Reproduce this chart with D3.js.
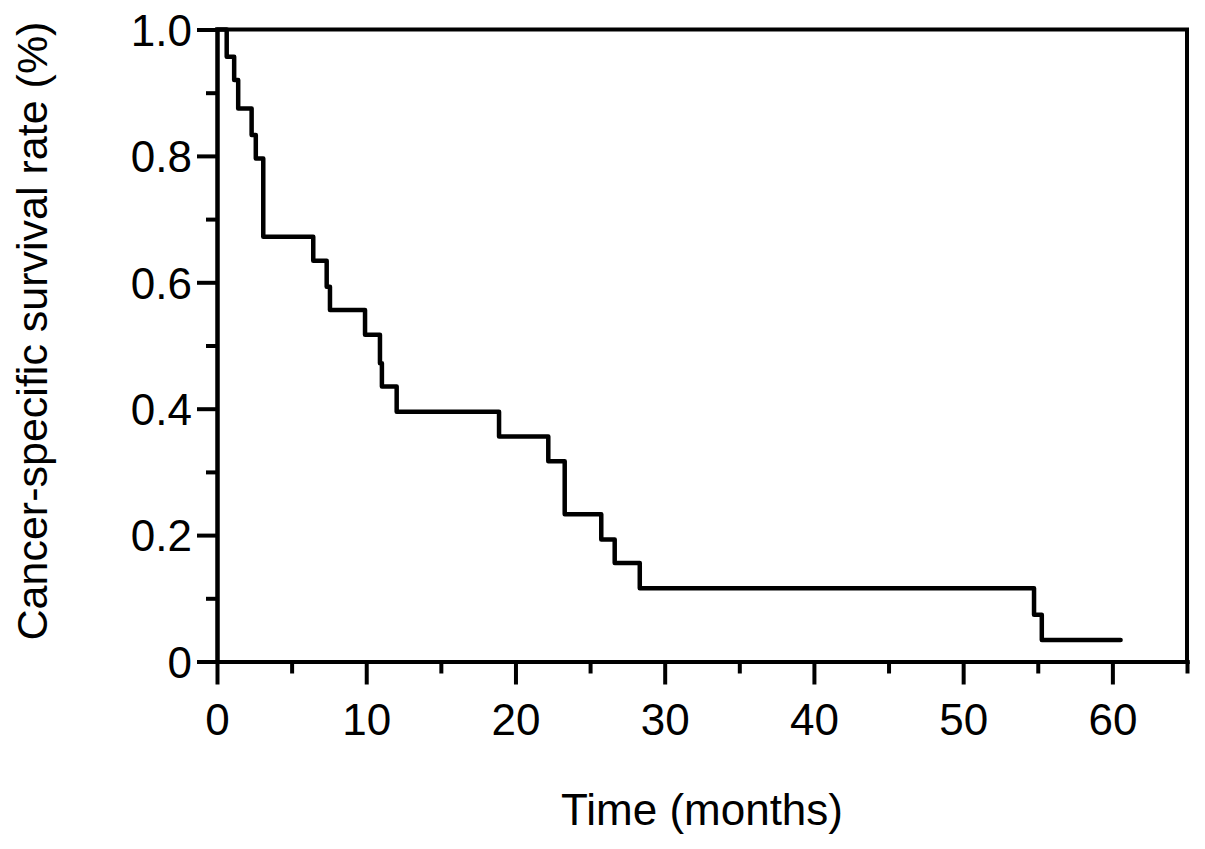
<!DOCTYPE html>
<html>
<head>
<meta charset="utf-8">
<script src="https://cdn.jsdelivr.net/npm/d3@7"></script>
<style>
  html, body { margin: 0; padding: 0; background: #fff; }
  svg { display: block; }
  text { font-family: "Liberation Sans", Arial, sans-serif; fill: #000; }
</style>
</head>
<body>
<svg id="chart" width="1205" height="849"></svg>
<script>
// ---- data ----
const stepTimes  = [0, 0.65, 1.15, 1.42, 2.32, 2.6, 3.1, 6.45, 7.35, 7.57, 9.92, 10.92, 11.05, 12.04, 18.9, 22.2, 23.3, 25.75, 26.65, 28.33, 54.75, 55.27, 60.55];
const survival   = [1.0, 0.957, 0.920, 0.875, 0.833, 0.796, 0.672, 0.634, 0.593, 0.556, 0.517, 0.472, 0.435, 0.395, 0.356, 0.317, 0.233, 0.193, 0.156, 0.116, 0.074, 0.034, 0.034];
const xMajorTicks = [0, 10, 20, 30, 40, 50, 60];
const xMinorTicks = [5, 15, 25, 35, 45, 55, 65];
const yMajorTicks = [0, 0.2, 0.4, 0.6, 0.8, 1.0];
const yMinorTicks = [0.1, 0.3, 0.5, 0.7, 0.9];
const xTitle = "Time (months)";
const yTitle = "Cancer-specific survival rate (%)";

(function () {
  // ---- layout ----
  const svg = d3.select("#chart");
  const pL = 217, pR = 1187, pT = 29.5, pB = 661.5;
  const x = d3.scaleLinear().domain([0, 65]).range([pL, pR]);
  const y = d3.scaleLinear().domain([0, 1]).range([pB, pT]);
  const axisW = 4;

  svg.append("rect").attr("width", 1205).attr("height", 849).attr("fill", "#fff");

  // x axis: minor then major
  svg.append("g").attr("transform", `translate(0,${pB})`)
    .call(d3.axisBottom(x).tickValues(xMinorTicks).tickSize(12).tickSizeOuter(0).tickFormat(""));
  const gx = svg.append("g").attr("transform", `translate(0,${pB})`)
    .call(d3.axisBottom(x).tickValues(xMajorTicks).tickSize(23).tickSizeOuter(0).tickFormat(d3.format("d")));
  gx.selectAll("text").attr("y", 73.5).attr("dy", 0).style("font-size", "44px");

  // y axis
  svg.append("g").attr("transform", `translate(${pL},0)`)
    .call(d3.axisLeft(y).tickValues(yMinorTicks).tickSize(11).tickSizeOuter(0).tickFormat(""));
  const gy = svg.append("g").attr("transform", `translate(${pL},0)`)
    .call(d3.axisLeft(y).tickValues(yMajorTicks).tickSize(20).tickSizeOuter(0)
          .tickFormat(d => d === 0 ? "0" : d3.format(".1f")(d)));
  gy.selectAll("text").attr("x", -25).attr("dy", "0.36em").style("font-size", "44px");

  svg.selectAll(".tick line").attr("stroke", "#000").attr("stroke-width", axisW);
  svg.selectAll(".domain").attr("stroke", "#000").attr("stroke-width", axisW).attr("stroke-linecap", "square");
  svg.selectAll(".tick text").attr("fill", "#000");

  // frame top & right
  svg.append("path")
    .attr("d", `M${pL},${pT}H${pR}V${pB}`)
    .attr("fill", "none").attr("stroke", "#000").attr("stroke-width", axisW)
    .attr("stroke-linecap", "square").attr("stroke-linejoin", "miter");

  // survival step curve
  const pts = stepTimes.map((t, i) => [t, survival[i]]);
  svg.append("path")
    .datum(pts)
    .attr("d", d3.line().x(d => x(d[0])).y(d => y(d[1])).curve(d3.curveStepAfter))
    .attr("fill", "none").attr("stroke", "#000").attr("stroke-width", 4.5)
    .attr("stroke-linejoin", "round").attr("stroke-linecap", "round");

  // titles
  svg.append("text")
    .attr("x", (pL + pR) / 2).attr("y", 825)
    .attr("text-anchor", "middle").style("font-size", "44px").text(xTitle);
  svg.append("text")
    .attr("transform", `translate(47,331) rotate(-90)`)
    .attr("text-anchor", "middle").style("font-size", "43px").text(yTitle);
})();
</script>
</body>
</html>
